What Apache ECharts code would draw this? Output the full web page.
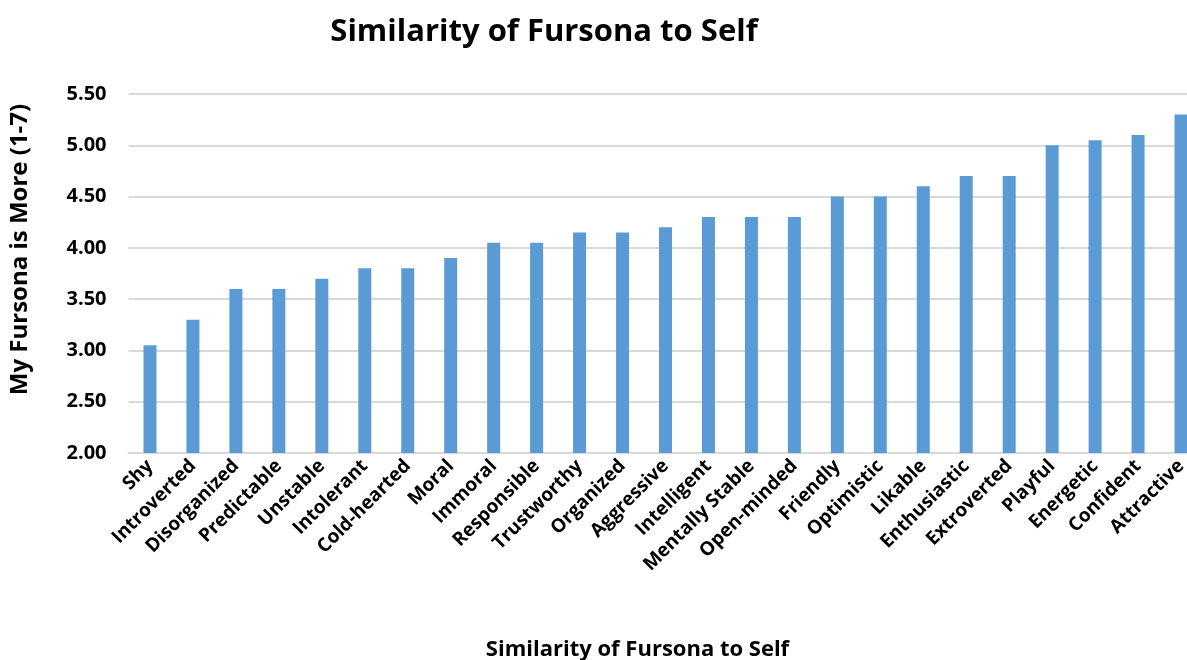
<!DOCTYPE html>
<html>
<head>
<meta charset="utf-8">
<script src="https://cdn.jsdelivr.net/npm/echarts@6/dist/echarts.min.js"></script>
<style>
    html,body{margin:0;padding:0;background:#fff;overflow:hidden;}
    #chart{width:1187px;height:660px;}
</style>
</head>
<body>
<div id="chart"></div>
<script>
"use strict";
// 特征类别
const traits = ["Shy","Introverted","Disorganized","Predictable","Unstable","Intolerant","Cold-hearted","Moral","Immoral","Responsible","Trustworthy","Organized","Aggressive","Intelligent","Mentally Stable","Open-minded","Friendly","Optimistic","Likable","Enthusiastic","Extroverted","Playful","Energetic","Confident","Attractive"];
// 平均分
const scores = [3.05,3.30,3.60,3.60,3.70,3.80,3.80,3.90,4.05,4.05,4.15,4.15,4.20,4.30,4.30,4.30,4.50,4.50,4.60,4.70,4.70,5.00,5.05,5.10,5.30];

const font = "'Open Sans', 'DejaVu Sans', sans-serif";
let chart = echarts.init(document.getElementById("chart"));
chart.setOption({
    animation:false,
    title:{
        text:"Similarity of Fursona to Self",
        left:539,
        top:12,
        textAlign:"center",
        textStyle:{fontFamily:font,fontSize:31,fontWeight:"bold",color:"#000"}
    },
    // 右侧最后一根柱子被裁切，所以网格宽度超出画布
    grid:{left:128.5,width:1074,top:94,bottom:207,containLabel:false,outerBoundsMode:"none"},
    xAxis:{
        type:"category",
        data:traits,
        name:"Similarity of Fursona to Self",
        nameLocation:"middle",
        nameGap:186,
        nameTextStyle:{fontFamily:font,fontSize:22,fontWeight:"bold",color:"#000",padding:[0,56,0,0]},
        axisTick:{show:false},
        axisLine:{lineStyle:{color:"#d9d9d9",width:2}},
        axisLabel:{
            interval:0,
            rotate:45,
            margin:10,
            fontFamily:font,fontSize:19,fontWeight:"bold",color:"#000"
        }
    },
    yAxis:{
        type:"value",
        min:2,
        max:5.5,
        interval:0.5,
        name:"My Fursona is More (1-7)",
        nameLocation:"middle",
        nameGap:96,
        nameTextStyle:{fontFamily:font,fontSize:24,fontWeight:"bold",color:"#000",padding:[0,0,0,48]},
        axisLine:{show:false},
        axisTick:{show:false},
        splitLine:{lineStyle:{color:"#d9d9d9",width:2}},
        axisLabel:{
            margin:22,
            formatter:v=>v.toFixed(2),
            fontFamily:font,fontSize:20,fontWeight:"bold",color:"#000"
        }
    },
    series:[{
        type:"bar",
        data:scores,
        barWidth:13,
        itemStyle:{color:"#5b9bd5"}
    }]
});
</script>
</body>
</html>
